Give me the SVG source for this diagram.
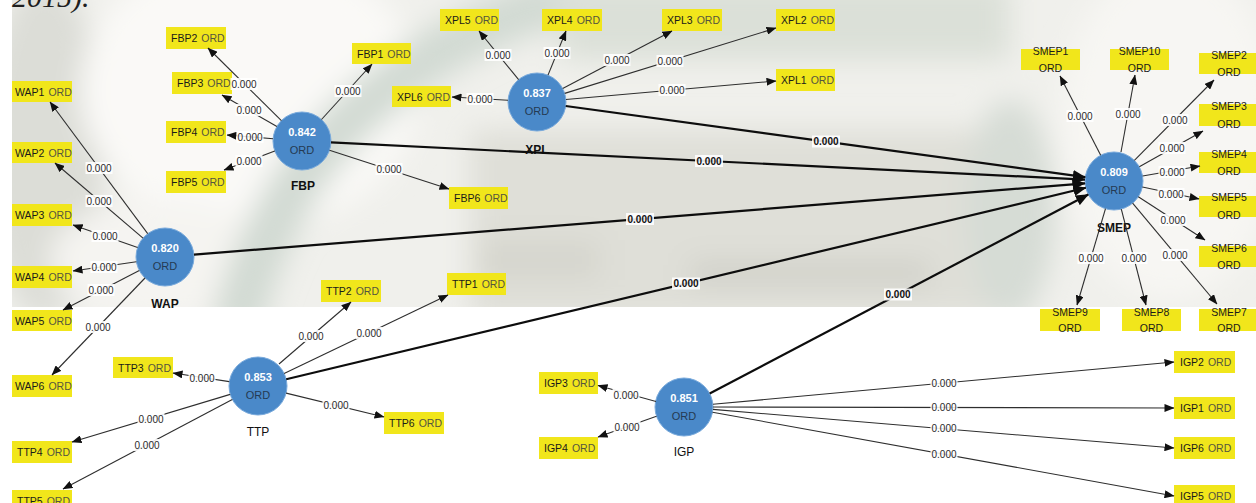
<svg xmlns="http://www.w3.org/2000/svg" width="1256" height="503" viewBox="0 0 1256 503">
<style>
.box{fill:#f1e61b}
.nm{font-family:"Liberation Sans",Arial,sans-serif;font-size:10.5px;fill:#1a1a1a}
.o{fill:#55553f}
.sm{font-family:"Liberation Sans",Arial,sans-serif;font-size:10.5px;fill:#1a1a1a;text-anchor:middle}
.cir{fill:#4a89c9;stroke:#79aadc;stroke-width:1}
.cv{font-family:"Liberation Sans",Arial,sans-serif;font-size:11px;font-weight:bold;fill:#ffffff;text-anchor:middle}
.co{font-family:"Liberation Sans",Arial,sans-serif;font-size:11px;fill:#253a52;text-anchor:middle}
.cl{font-family:"Liberation Sans",Arial,sans-serif;font-size:12px;font-weight:bold;fill:#111;text-anchor:middle}
.cln{font-family:"Liberation Sans",Arial,sans-serif;font-size:12px;fill:#111;text-anchor:middle}
.t{stroke:#2e2e2e;stroke-width:1.1;fill:none;marker-end:url(#a)}
.k{stroke:#0d0d0d;stroke-width:2.2;fill:none;marker-end:url(#A)}
.lb{fill:#ffffff;fill-opacity:0.88}
.lv{font-family:"Liberation Sans",Arial,sans-serif;font-size:10px;fill:#2a2a2a;text-anchor:middle}
.lvb{font-family:"Liberation Sans",Arial,sans-serif;font-size:10px;font-weight:bold;fill:#111;text-anchor:middle}
</style>
<defs>
<marker id="a" markerUnits="userSpaceOnUse" viewBox="0 0 10 8" markerWidth="10" markerHeight="8" refX="9.5" refY="4" orient="auto"><path d="M0,0 L10,4 L0,8 z" fill="#111"/></marker>
<marker id="A" markerUnits="userSpaceOnUse" viewBox="0 0 13 11" markerWidth="13" markerHeight="11" refX="12.5" refY="5.5" orient="auto"><path d="M0,0 L13,5.5 L0,11 z" fill="#0d0d0d"/></marker>
<filter id="blur" x="-20%" y="-20%" width="140%" height="140%"><feGaussianBlur stdDeviation="14"/></filter>
<clipPath id="photo"><rect x="12" y="0" width="1244" height="307"/></clipPath>
</defs>
<rect x="0" y="0" width="1256" height="503" fill="#ffffff"/>
<g id="background-photo" clip-path="url(#photo)">
<rect x="12" y="0" width="1244" height="307" fill="#f0f0ec"/>
<g filter="url(#blur)">
<ellipse cx="45" cy="150" rx="60" ry="170" fill="#dcddd7"/>
<ellipse cx="250" cy="90" rx="170" ry="140" fill="#faf9f7"/>
<ellipse cx="160" cy="260" rx="110" ry="60" fill="#f5f4f1"/>
<path d="M235,330 Q270,190 360,110 Q450,30 560,0" stroke="#d2dad3" stroke-width="50" fill="none"/>
<rect x="560" y="-20" width="450" height="80" fill="#dbe0d8"/>
<rect x="470" y="130" width="560" height="190" fill="#dfdfd8"/>
<rect x="690" y="262" width="240" height="22" fill="#cfcfc7"/>
<rect x="480" y="240" width="120" height="40" fill="#d6d6ce"/>
<ellipse cx="1170" cy="130" rx="110" ry="170" fill="#f7f6f3"/>
<ellipse cx="1010" cy="210" rx="45" ry="110" fill="#d6dcd5"/>
</g>
</g>
<text x="12" y="7" font-family="'Liberation Serif','Times New Roman',serif" font-style="italic" font-size="30" fill="#1e1e1e">2015).</text>

<g id="node-FBP"><circle class="cir" cx="302" cy="141" r="29"/><text class="cv" x="302" y="136">0.842</text><text class="co" x="302" y="154">ORD</text><text class="cl" x="303" y="190">FBP</text></g>
<g id="node-XPL"><circle class="cir" cx="537" cy="102" r="29"/><text class="cv" x="537" y="97">0.837</text><text class="co" x="537" y="115">ORD</text><text class="cl" x="537" y="154">XPL</text></g>
<g id="node-WAP"><circle class="cir" cx="165" cy="257" r="29"/><text class="cv" x="165" y="252">0.820</text><text class="co" x="165" y="270">ORD</text><text class="cl" x="165" y="308">WAP</text></g>
<g id="node-TTP"><circle class="cir" cx="258" cy="386" r="29"/><text class="cv" x="258" y="381">0.853</text><text class="co" x="258" y="399">ORD</text><text class="cln" x="258" y="436">TTP</text></g>
<g id="node-IGP"><circle class="cir" cx="684" cy="407" r="29"/><text class="cv" x="684" y="402">0.851</text><text class="co" x="684" y="420">ORD</text><text class="cln" x="684" y="456">IGP</text></g>
<g id="node-SMEP"><circle class="cir" cx="1114" cy="181" r="29"/><text class="cv" x="1114" y="176">0.809</text><text class="co" x="1114" y="194">ORD</text><text class="cl" x="1114" y="232">SMEP</text></g>

<g id="node-FBP1"><rect class="box" x="352" y="43" width="59" height="21"/><text class="nm" x="357" y="57.5">FBP1<tspan class="o" dx="4">ORD</tspan></text></g>
<g id="node-FBP2"><rect class="box" x="166" y="27" width="60" height="22"/><text class="nm" x="171" y="42">FBP2<tspan class="o" dx="4">ORD</tspan></text></g>
<g id="node-FBP3"><rect class="box" x="172" y="72" width="60" height="22"/><text class="nm" x="177" y="87">FBP3<tspan class="o" dx="4">ORD</tspan></text></g>
<g id="node-FBP4"><rect class="box" x="166" y="121" width="60" height="22"/><text class="nm" x="171" y="136">FBP4<tspan class="o" dx="4">ORD</tspan></text></g>
<g id="node-FBP5"><rect class="box" x="166" y="171" width="60" height="22"/><text class="nm" x="171" y="186">FBP5<tspan class="o" dx="4">ORD</tspan></text></g>
<g id="node-FBP6"><rect class="box" x="449" y="187" width="59" height="22"/><text class="nm" x="454" y="202">FBP6<tspan class="o" dx="4">ORD</tspan></text></g>

<g id="node-XPL1"><rect class="box" x="776" y="69" width="59" height="22"/><text class="nm" x="781" y="84">XPL1<tspan class="o" dx="4">ORD</tspan></text></g>
<g id="node-XPL2"><rect class="box" x="776" y="9" width="59" height="22"/><text class="nm" x="781" y="24">XPL2<tspan class="o" dx="4">ORD</tspan></text></g>
<g id="node-XPL3"><rect class="box" x="662" y="9" width="60" height="22"/><text class="nm" x="667" y="24">XPL3<tspan class="o" dx="4">ORD</tspan></text></g>
<g id="node-XPL4"><rect class="box" x="542" y="9" width="60" height="22"/><text class="nm" x="547" y="24">XPL4<tspan class="o" dx="4">ORD</tspan></text></g>
<g id="node-XPL5"><rect class="box" x="440" y="9" width="59" height="22"/><text class="nm" x="445" y="24">XPL5<tspan class="o" dx="4">ORD</tspan></text></g>
<g id="node-XPL6"><rect class="box" x="392" y="86" width="59" height="21"/><text class="nm" x="397" y="100.5">XPL6<tspan class="o" dx="4">ORD</tspan></text></g>

<g id="node-WAP1"><rect class="box" x="12" y="81" width="60" height="21"/><text class="nm" x="15" y="95.5">WAP1<tspan class="o" dx="4">ORD</tspan></text></g>
<g id="node-WAP2"><rect class="box" x="12" y="142" width="60" height="21"/><text class="nm" x="15" y="156.5">WAP2<tspan class="o" dx="4">ORD</tspan></text></g>
<g id="node-WAP3"><rect class="box" x="12" y="204" width="60" height="22"/><text class="nm" x="15" y="219">WAP3<tspan class="o" dx="4">ORD</tspan></text></g>
<g id="node-WAP4"><rect class="box" x="12" y="266" width="60" height="22"/><text class="nm" x="15" y="281">WAP4<tspan class="o" dx="4">ORD</tspan></text></g>
<g id="node-WAP5"><rect class="box" x="12" y="310" width="60" height="21"/><text class="nm" x="15" y="324.5">WAP5<tspan class="o" dx="4">ORD</tspan></text></g>
<g id="node-WAP6"><rect class="box" x="12" y="375" width="60" height="22"/><text class="nm" x="15" y="390">WAP6<tspan class="o" dx="4">ORD</tspan></text></g>

<g id="node-TTP1"><rect class="box" x="447" y="273" width="59" height="22"/><text class="nm" x="452" y="288">TTP1<tspan class="o" dx="4">ORD</tspan></text></g>
<g id="node-TTP2"><rect class="box" x="321" y="280" width="60" height="22"/><text class="nm" x="326" y="295">TTP2<tspan class="o" dx="4">ORD</tspan></text></g>
<g id="node-TTP3"><rect class="box" x="113" y="357" width="60" height="21"/><text class="nm" x="118" y="371.5">TTP3<tspan class="o" dx="4">ORD</tspan></text></g>
<g id="node-TTP4"><rect class="box" x="12" y="441" width="60" height="22"/><text class="nm" x="17" y="456">TTP4<tspan class="o" dx="4">ORD</tspan></text></g>
<g id="node-TTP5"><rect class="box" x="12" y="490" width="60" height="22"/><text class="nm" x="17" y="505">TTP5<tspan class="o" dx="4">ORD</tspan></text></g>
<g id="node-TTP6"><rect class="box" x="384" y="412" width="60" height="22"/><text class="nm" x="389" y="427">TTP6<tspan class="o" dx="4">ORD</tspan></text></g>

<g id="node-IGP1"><rect class="box" x="1174" y="397" width="61" height="22"/><text class="nm" x="1180" y="412">IGP1<tspan class="o" dx="4">ORD</tspan></text></g>
<g id="node-IGP2"><rect class="box" x="1174" y="351" width="61" height="22"/><text class="nm" x="1180" y="366">IGP2<tspan class="o" dx="4">ORD</tspan></text></g>
<g id="node-IGP3"><rect class="box" x="539" y="372" width="59" height="22"/><text class="nm" x="544" y="387">IGP3<tspan class="o" dx="4">ORD</tspan></text></g>
<g id="node-IGP4"><rect class="box" x="539" y="437" width="59" height="22"/><text class="nm" x="544" y="452">IGP4<tspan class="o" dx="4">ORD</tspan></text></g>
<g id="node-IGP5"><rect class="box" x="1174" y="485" width="61" height="22"/><text class="nm" x="1180" y="500">IGP5<tspan class="o" dx="4">ORD</tspan></text></g>
<g id="node-IGP6"><rect class="box" x="1174" y="437" width="61" height="22"/><text class="nm" x="1180" y="452">IGP6<tspan class="o" dx="4">ORD</tspan></text></g>

<g id="node-SMEP1"><rect class="box" x="1021" y="49" width="59" height="21"/><text class="sm" x="1050.5" y="54.5">SMEP1</text><text class="sm o" x="1050.5" y="72">ORD</text></g>
<g id="node-SMEP10"><rect class="box" x="1110" y="49" width="59" height="21"/><text class="sm" x="1139.5" y="54.5">SMEP10</text><text class="sm o" x="1139.5" y="72">ORD</text></g>
<g id="node-SMEP2"><rect class="box" x="1199" y="53" width="60" height="21"/><text class="sm" x="1229" y="58.5">SMEP2</text><text class="sm o" x="1229" y="76">ORD</text></g>
<g id="node-SMEP3"><rect class="box" x="1199" y="104" width="60" height="22"/><text class="sm" x="1229" y="110">SMEP3</text><text class="sm o" x="1229" y="127.5">ORD</text></g>
<g id="node-SMEP4"><rect class="box" x="1199" y="152" width="60" height="21"/><text class="sm" x="1229" y="157.5">SMEP4</text><text class="sm o" x="1229" y="175">ORD</text></g>
<g id="node-SMEP5"><rect class="box" x="1199" y="196" width="60" height="21"/><text class="sm" x="1229" y="201">SMEP5</text><text class="sm o" x="1229" y="218.5">ORD</text></g>
<g id="node-SMEP6"><rect class="box" x="1199" y="246" width="60" height="21"/><text class="sm" x="1229" y="251.5">SMEP6</text><text class="sm o" x="1229" y="269">ORD</text></g>
<g id="node-SMEP7"><rect class="box" x="1199" y="309" width="60" height="22"/><text class="sm" x="1229" y="315.5">SMEP7</text><text class="sm o" x="1229" y="332">ORD</text></g>
<g id="node-SMEP8"><rect class="box" x="1122" y="309" width="59" height="22"/><text class="sm" x="1151.5" y="315.5">SMEP8</text><text class="sm o" x="1151.5" y="332">ORD</text></g>
<g id="node-SMEP9"><rect class="box" x="1040" y="309" width="60" height="22"/><text class="sm" x="1070" y="315.5">SMEP9</text><text class="sm o" x="1070" y="332">ORD</text></g>

<g id="connectors">
<g><line class="t" x1="281.4" y1="120.6" x2="208" y2="48"/><rect class="lb" x="230.5" y="78" width="27" height="12"/><text class="lv" x="244" y="87.5">0.000</text></g>
<g><line class="t" x1="276.9" y1="126.6" x2="222" y2="95"/><rect class="lb" x="235.5" y="104" width="27" height="12"/><text class="lv" x="249" y="113.5">0.000</text></g>
<g><line class="t" x1="273.1" y1="138.7" x2="227" y2="135"/><rect class="lb" x="236.5" y="131" width="27" height="12"/><text class="lv" x="250" y="140.5">0.000</text></g>
<g><line class="t" x1="274.8" y1="151.1" x2="224" y2="170"/><rect class="lb" x="235.5" y="155" width="27" height="12"/><text class="lv" x="249" y="164.5">0.000</text></g>
<g><line class="t" x1="321.5" y1="119.5" x2="372" y2="64"/><rect class="lb" x="334.5" y="85" width="27" height="12"/><text class="lv" x="348" y="94.5">0.000</text></g>
<g><line class="t" x1="329.5" y1="150.2" x2="449" y2="189"/><rect class="lb" x="375.5" y="163" width="27" height="12"/><text class="lv" x="389" y="172.5">0.000</text></g>

<g><line class="t" x1="518.6" y1="79.6" x2="479" y2="31"/><rect class="lb" x="484.5" y="49" width="27" height="12"/><text class="lv" x="498" y="58.5">0.000</text></g>
<g><line class="t" x1="548" y1="75.1" x2="566" y2="31"/><rect class="lb" x="543.5" y="47" width="27" height="12"/><text class="lv" x="557" y="56.5">0.000</text></g>
<g><line class="t" x1="562.7" y1="88.5" x2="672" y2="31"/><rect class="lb" x="603.5" y="54" width="27" height="12"/><text class="lv" x="617" y="63.5">0.000</text></g>
<g><line class="t" x1="564.7" y1="93.4" x2="776" y2="28"/><rect class="lb" x="656.5" y="55" width="27" height="12"/><text class="lv" x="670" y="64.5">0.000</text></g>
<g><line class="t" x1="565.9" y1="99.5" x2="776" y2="81"/><rect class="lb" x="658.5" y="84" width="27" height="12"/><text class="lv" x="672" y="93.5">0.000</text></g>
<g><line class="t" x1="508" y1="100.3" x2="452" y2="97"/><rect class="lb" x="466.5" y="93" width="27" height="12"/><text class="lv" x="480" y="102.5">0.000</text></g>

<g><line class="t" x1="147.7" y1="233.7" x2="50" y2="102"/><rect class="lb" x="85.5" y="162" width="27" height="12"/><text class="lv" x="99" y="171.5">0.000</text></g>
<g><line class="t" x1="143" y1="238.2" x2="55" y2="163"/><rect class="lb" x="85.5" y="195" width="27" height="12"/><text class="lv" x="99" y="204.5">0.000</text></g>
<g><line class="t" x1="137.6" y1="247.5" x2="73" y2="225"/><rect class="lb" x="91.5" y="230" width="27" height="12"/><text class="lv" x="105" y="239.5">0.000</text></g>
<g><line class="t" x1="136.4" y1="261.7" x2="73" y2="271"/><rect class="lb" x="90.5" y="261" width="27" height="12"/><text class="lv" x="104" y="270.5">0.000</text></g>
<g><line class="t" x1="139.3" y1="270.5" x2="63" y2="310"/><rect class="lb" x="87.5" y="284" width="27" height="12"/><text class="lv" x="101" y="293.5">0.000</text></g>
<g><line class="t" x1="145" y1="278" x2="52" y2="375"/><rect class="lb" x="84.5" y="321" width="27" height="12"/><text class="lv" x="98" y="330.5">0.000</text></g>

<g><line class="t" x1="229.3" y1="381.6" x2="173" y2="373"/><rect class="lb" x="188.5" y="372" width="27" height="12"/><text class="lv" x="202" y="381.5">0.000</text></g>
<g><line class="t" x1="279" y1="364" x2="351" y2="302"/><rect class="lb" x="297.5" y="330" width="27" height="12"/><text class="lv" x="311" y="339.5">0.000</text></g>
<g><line class="t" x1="284.1" y1="373.4" x2="448" y2="295"/><rect class="lb" x="355.5" y="327" width="27" height="12"/><text class="lv" x="369" y="336.5">0.000</text></g>
<g><line class="t" x1="286.1" y1="393.1" x2="384" y2="417"/><rect class="lb" x="322.5" y="399" width="27" height="12"/><text class="lv" x="336" y="408.5">0.000</text></g>
<g><line class="t" x1="230.2" y1="394.4" x2="72" y2="442"/><rect class="lb" x="137.5" y="413" width="27" height="12"/><text class="lv" x="151" y="422.5">0.000</text></g>
<g><line class="t" x1="232.3" y1="399.5" x2="63" y2="489"/><rect class="lb" x="133.5" y="439" width="27" height="12"/><text class="lv" x="147" y="448.5">0.000</text></g>

<g><line class="t" x1="656" y1="401.5" x2="598" y2="385.5"/><rect class="lb" x="612.5" y="389" width="27" height="12"/><text class="lv" x="626" y="398.5">0.000</text></g>
<g><line class="t" x1="656.5" y1="416.3" x2="598" y2="437"/><rect class="lb" x="613.5" y="421" width="27" height="12"/><text class="lv" x="627" y="430.5">0.000</text></g>
<g><line class="t" x1="712.9" y1="404.3" x2="1174" y2="362"/><rect class="lb" x="930.5" y="377" width="27" height="12"/><text class="lv" x="944" y="386.5">0.000</text></g>
<g><line class="t" x1="713" y1="407" x2="1174" y2="408"/><rect class="lb" x="930.5" y="401.5" width="27" height="12"/><text class="lv" x="944" y="411">0.000</text></g>
<g><line class="t" x1="712.9" y1="409.4" x2="1174" y2="448"/><rect class="lb" x="930.5" y="422.5" width="27" height="12"/><text class="lv" x="944" y="432">0.000</text></g>
<g><line class="t" x1="712.5" y1="412.2" x2="1174" y2="496"/><rect class="lb" x="930.5" y="448" width="27" height="12"/><text class="lv" x="944" y="457.5">0.000</text></g>

<g><line class="t" x1="1100.7" y1="155.2" x2="1060" y2="76"/><rect class="lb" x="1066.5" y="110" width="27" height="12"/><text class="lv" x="1080" y="119.5">0.000</text></g>
<g><line class="t" x1="1121" y1="152" x2="1135" y2="75"/><rect class="lb" x="1114.5" y="108" width="27" height="12"/><text class="lv" x="1128" y="117.5">0.000</text></g>
<g><line class="t" x1="1134.4" y1="160.4" x2="1214" y2="80"/><rect class="lb" x="1161.5" y="114" width="27" height="12"/><text class="lv" x="1175" y="123.5">0.000</text></g>
<g><line class="t" x1="1139.3" y1="166.8" x2="1203" y2="131"/><rect class="lb" x="1158.5" y="142" width="27" height="12"/><text class="lv" x="1172" y="151.5">0.000</text></g>
<g><line class="t" x1="1142.6" y1="176" x2="1200" y2="166"/><rect class="lb" x="1158.5" y="166" width="27" height="12"/><text class="lv" x="1172" y="175.5">0.000</text></g>
<g><line class="t" x1="1142.4" y1="187" x2="1199" y2="199"/><rect class="lb" x="1157.5" y="188" width="27" height="12"/><text class="lv" x="1171" y="197.5">0.000</text></g>
<g><line class="t" x1="1138.3" y1="196.8" x2="1205" y2="240"/><rect class="lb" x="1159.5" y="214" width="27" height="12"/><text class="lv" x="1173" y="223.5">0.000</text></g>
<g><line class="t" x1="1132.6" y1="203.2" x2="1217" y2="304"/><rect class="lb" x="1161.5" y="249" width="27" height="12"/><text class="lv" x="1175" y="258.5">0.000</text></g>
<g><line class="t" x1="1121.3" y1="209.1" x2="1146" y2="305"/><rect class="lb" x="1120.5" y="252" width="27" height="12"/><text class="lv" x="1134" y="261.5">0.000</text></g>
<g><line class="t" x1="1105.5" y1="208.7" x2="1077" y2="305"/><rect class="lb" x="1077.5" y="252" width="27" height="12"/><text class="lv" x="1091" y="261.5">0.000</text></g>

<g><line class="k" x1="565.7" y1="106" x2="1085.3" y2="177.1"/><rect class="lb" x="812" y="135.5" width="28" height="12"/><text class="lvb" x="826" y="145">0.000</text></g>
<g><line class="k" x1="331" y1="142.4" x2="1085" y2="179.6"/><rect class="lb" x="695" y="155" width="28" height="12"/><text class="lvb" x="709" y="164.5">0.000</text></g>
<g><line class="k" x1="193.9" y1="254.7" x2="1085.1" y2="183.3"/><rect class="lb" x="626" y="213" width="28" height="12"/><text class="lvb" x="640" y="222.5">0.000</text></g>
<g><line class="k" x1="286.2" y1="379.2" x2="1085.8" y2="187.8"/><rect class="lb" x="672" y="277.5" width="28" height="12"/><text class="lvb" x="686" y="287">0.000</text></g>
<g><line class="k" x1="709.7" y1="393.5" x2="1088.3" y2="194.5"/><rect class="lb" x="884" y="288.5" width="28" height="12"/><text class="lvb" x="898" y="298">0.000</text></g>
</g>
</svg>
